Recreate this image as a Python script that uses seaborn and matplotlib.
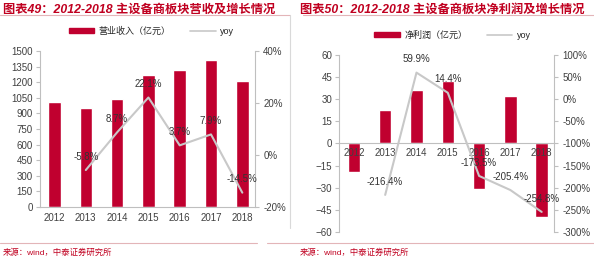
import seaborn as sns
import pandas as pd
import matplotlib
matplotlib.use("Agg")
import matplotlib.pyplot as plt
import matplotlib.patches as mpatches
from matplotlib.lines import Line2D

sns.set_theme(style="white")
plt.rcParams['font.family'] = ['Liberation Sans', 'Noto Sans CJK SC', 'DejaVu Sans']

'''data'''
years = ["2012", "2013", "2014", "2015", "2016", "2017", "2018"]

# left chart - revenue
revenue = [1010, 955, 1035, 1265, 1315, 1415, 1210]
revenue_yoy = [-5.8, 8.7, 22.1, 3.7, 7.9, -14.5]   # 2013-2018

# right chart - net profit
profit = [-19.5, 22.5, 36, 42, -31, 32, -50]
profit_yoy = [-216.4, 59.9, 14.4, -173.5, -205.4, -254.8]   # 2013-2018

bar_color = "#C0002F"
line_color = "#C8C8C8"
red_text = "#C00020"
spine_color = "#BFBFBF"

fig = plt.figure(figsize=(5.94, 2.6), dpi=100)

'''left chart'''
ax1 = fig.add_axes([0.067, 0.204, 0.362, 0.600])
df1 = pd.DataFrame({"year": years, "value": revenue})
sns.barplot(data=df1, x="year", y="value", color=bar_color, width=0.4,
            saturation=1, ax=ax1)
ax1.set_xlim(-0.47, 6.4)
ax1.set_ylim(0, 1500)
ax1.set_yticks(range(0, 1501, 150))
ax1.set_xlabel("")
ax1.set_ylabel("")

ax1b = ax1.twinx()
x_yoy = list(range(1, 7))
sns.lineplot(x=x_yoy, y=revenue_yoy, color=line_color, linewidth=1.5, ax=ax1b)
ax1b.set_ylim(-20, 40)
ax1b.set_yticks([-20, 0, 20, 40])
ax1b.set_yticklabels(["%d%%" % v for v in [-20, 0, 20, 40]])
for xv, yv in zip(x_yoy, revenue_yoy):
    ax1b.annotate("%.1f%%" % yv, (xv, yv), xytext=(0, 6), textcoords="offset points",
                  ha="center", va="bottom", fontsize=7, color="#333333")

'''right chart'''
ax2 = fig.add_axes([0.571, 0.108, 0.362, 0.681])
df2 = pd.DataFrame({"year": years, "value": profit})
sns.barplot(data=df2, x="year", y="value", color=bar_color, width=0.4,
            saturation=1, ax=ax2)
ax2.set_xlim(-0.47, 6.4)
ax2.set_ylim(-60, 60)
ax2.set_yticks(range(-60, 61, 15))
ax2.set_xlabel("")
ax2.set_ylabel("")
ax2.spines["bottom"].set_position(("data", 0))
# year labels drawn over the negative bars
for p in ax2.patches:
    p.set_zorder(1)
ax2.xaxis.set_zorder(10)
ax2.spines["bottom"].set_zorder(10)

ax2b = ax2.twinx()
sns.lineplot(x=x_yoy, y=profit_yoy, color=line_color, linewidth=1.5, ax=ax2b)
ax2b.set_ylim(-300, 100)
ax2b.set_yticks(range(-300, 101, 50))
ax2b.set_yticklabels(["%d%%" % v for v in range(-300, 101, 50)])
for xv, yv in zip(x_yoy, profit_yoy):
    ax2b.annotate("%.1f%%" % yv, (xv, yv), xytext=(0, 6), textcoords="offset points",
                  ha="center", va="bottom", fontsize=7, color="#333333")

'''axis styling'''
for a in [ax1, ax1b, ax2, ax2b]:
    a.spines["top"].set_visible(False)
    for s in ["left", "right", "bottom"]:
        a.spines[s].set_color(spine_color)
        a.spines[s].set_linewidth(0.8)
    a.tick_params(axis="both", labelsize=7, colors=spine_color, labelcolor="#404040",
                  length=3, width=0.8, direction="out", pad=2)
    a.grid(False)
for a in [ax1, ax2]:
    a.spines["right"].set_visible(False)
    a.tick_params(axis="x", length=0, pad=4)
for a in [ax1b, ax2b]:
    a.spines["left"].set_visible(False)
    a.spines["bottom"].set_visible(False)
    a.tick_params(axis="y", pad=3)
ax2.tick_params(axis="x", pad=3)

'''legends'''
h_bar = mpatches.Patch(color=bar_color)
h_line = Line2D([0], [0], color=line_color, linewidth=1.2)
fig.legend([h_bar, h_line], ["营业收入（亿元）", "yoy"], loc="center",
           bbox_to_anchor=(0.255, 0.88), ncol=2, frameon=False, fontsize=6.5,
           handlelength=2.8, handleheight=0.5, columnspacing=2.2, handletextpad=0.5)
fig.legend([h_bar, h_line], ["净利润（亿元）", "yoy"], loc="center",
           bbox_to_anchor=(0.762, 0.865), ncol=2, frameon=False, fontsize=6.5,
           handlelength=2.8, handleheight=0.5, columnspacing=2.2, handletextpad=0.5)

'''titles and source'''
title_font = ['Liberation Sans', 'Noto Sans CJK SC']
fig.text(0.005, 0.962, "图表49：2012-2018 主设备商板块营收及增长情况", fontsize=8.8,
         fontweight="bold", style="italic", color=red_text, va="center", family=title_font)
fig.text(0.505, 0.962, "图表50：2012-2018 主设备商板块净利润及增长情况", fontsize=8.8,
         fontweight="bold", style="italic", color=red_text, va="center", family=title_font)
fig.text(0.005, 0.03, "来源：wind，中泰证券研究所", fontsize=6, color=red_text,
         va="center", family=title_font)
fig.text(0.505, 0.03, "来源：wind，中泰证券研究所", fontsize=6, color=red_text,
         va="center", family=title_font)

# frame lines
line_kw = dict(transform=fig.transFigure, color="#E3B5B8", linewidth=0.8)
fig.add_artist(Line2D([0.0, 0.489], [0.942, 0.942], **line_kw))
fig.add_artist(Line2D([0.51, 1.0], [0.942, 0.942], **line_kw))
fig.add_artist(Line2D([0.0, 0.432], [0.065, 0.065], **line_kw))
fig.add_artist(Line2D([0.449, 1.0], [0.065, 0.065], **line_kw))
fig.add_artist(Line2D([0.489, 0.489], [0.942, 0.125], transform=fig.transFigure,
                      color="#D9D9D9", linewidth=0.8))

plt.savefig("out.png", dpi=100)
